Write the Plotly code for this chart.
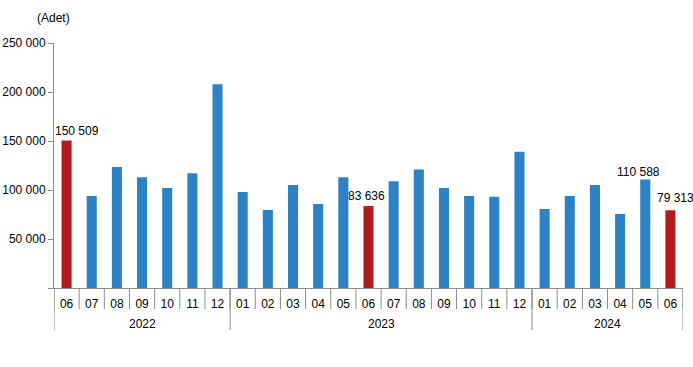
import plotly.graph_objects as go

years = ["2022"] * 7 + ["2023"] * 12 + ["2024"] * 6
months = ["06", "07", "08", "09", "10", "11", "12",
          "01", "02", "03", "04", "05", "06", "07", "08", "09", "10", "11", "12",
          "01", "02", "03", "04", "05", "06"]
values = [150509, 94000, 123500, 113000, 102000, 117000, 208000,
          98000, 79600, 105000, 85700, 113000, 83636, 109000, 121000, 102000, 94000, 93000, 139000,
          80600, 94000, 105000, 75500, 110588, 79313]
highlight = [0, 12, 24]
labelled = [0, 12, 23, 24]
label_xshift = {0: 10, 12: -2, 23: -7, 24: 5}
label_yshift = {0: 1, 12: 1, 23: -1, 24: 3}
y_ticks = [0, 50000, 100000, 150000, 200000, 250000]
y_ticktext = ["", "50 000", "100 000", "150 000", "200 000", "250 000"]

BLUE = "#2C82C5"
RED = "#B01B1C"
AXIS = "#8C8C8C"

# plot geometry (px)
L, R, T, B = 54, 10, 43, 79
W, H = 693, 367
ph = H - T - B

def py(px_below):
    return -px_below / ph

n = len(values)
xs = list(range(n))
colors = [RED if i in highlight else BLUE for i in range(n)]

fig = go.Figure(go.Bar(
    x=xs,
    y=values,
    marker=dict(color=colors, line=dict(width=0)),
    width=0.4,
    hoverinfo="skip",
))

shapes = []
# month boundaries
for i in range(n + 1):
    shapes.append(dict(type="line", xref="x", yref="paper",
                       x0=i - 0.5, x1=i - 0.5, y0=0, y1=py(21),
                       line=dict(color=AXIS, width=1)))
# year dividers
group_starts = [0]
for i in range(1, n):
    if years[i] != years[i - 1]:
        group_starts.append(i)
group_bounds = group_starts + [n]
for b in group_bounds:
    shapes.append(dict(type="line", xref="x", yref="paper",
                       x0=b - 0.5, x1=b - 0.5, y0=0, y1=py(42),
                       line=dict(color=AXIS, width=1)))

annotations = []
for i in labelled:
    annotations.append(dict(text=f"{values[i]:,}".replace(",", " "), xref="x", yref="y",
                            x=xs[i], y=values[i], yanchor="bottom",
                            xshift=label_xshift[i], yshift=label_yshift[i],
                            showarrow=False, font=dict(size=12, color="#000000")))
for gi in range(len(group_starts)):
    s, e = group_bounds[gi], group_bounds[gi + 1]
    annotations.append(dict(text=years[s], xref="x", yref="paper",
                            x=(s + e - 1) / 2, y=py(36), yanchor="middle",
                            showarrow=False, font=dict(size=12, color="#000000")))
annotations.append(dict(text="(Adet)", xref="paper", yref="paper",
                        x=(35 - L) / (W - L - R), y=(ph + T - 18) / ph,
                        xanchor="left", yanchor="middle", showarrow=False,
                        font=dict(size=12, color="#000000")))

fig.update_layout(
    width=W, height=H,
    margin=dict(l=L, r=R, t=T, b=B, autoexpand=False),
    plot_bgcolor="white", paper_bgcolor="white",
    showlegend=False,
    font=dict(family="Liberation Sans, Arial", size=12, color="#000000"),
    shapes=shapes,
    annotations=annotations,
)

fig.update_xaxes(
    range=[-0.5, n - 0.5],
    tickvals=xs, ticktext=months,
    showline=True, linecolor=AXIS, linewidth=1,
    ticks="", ticklabelstandoff=5, automargin=False,
    tickfont=dict(size=12, color="#000000"),
    showgrid=False, zeroline=False,
)
fig.update_yaxes(
    range=[0, 250000],
    tickvals=y_ticks, ticktext=y_ticktext,
    showline=True, linecolor=AXIS, linewidth=1,
    ticks="outside", ticklen=5, tickcolor=AXIS, automargin=False,
    showgrid=False, zeroline=False,
    tickfont=dict(size=12, color="#000000"),
)

fig.write_html("out.html",
               config={"displayModeBar": False},
               post_script="document.body.style.margin='0px';document.body.style.overflow='hidden';")
